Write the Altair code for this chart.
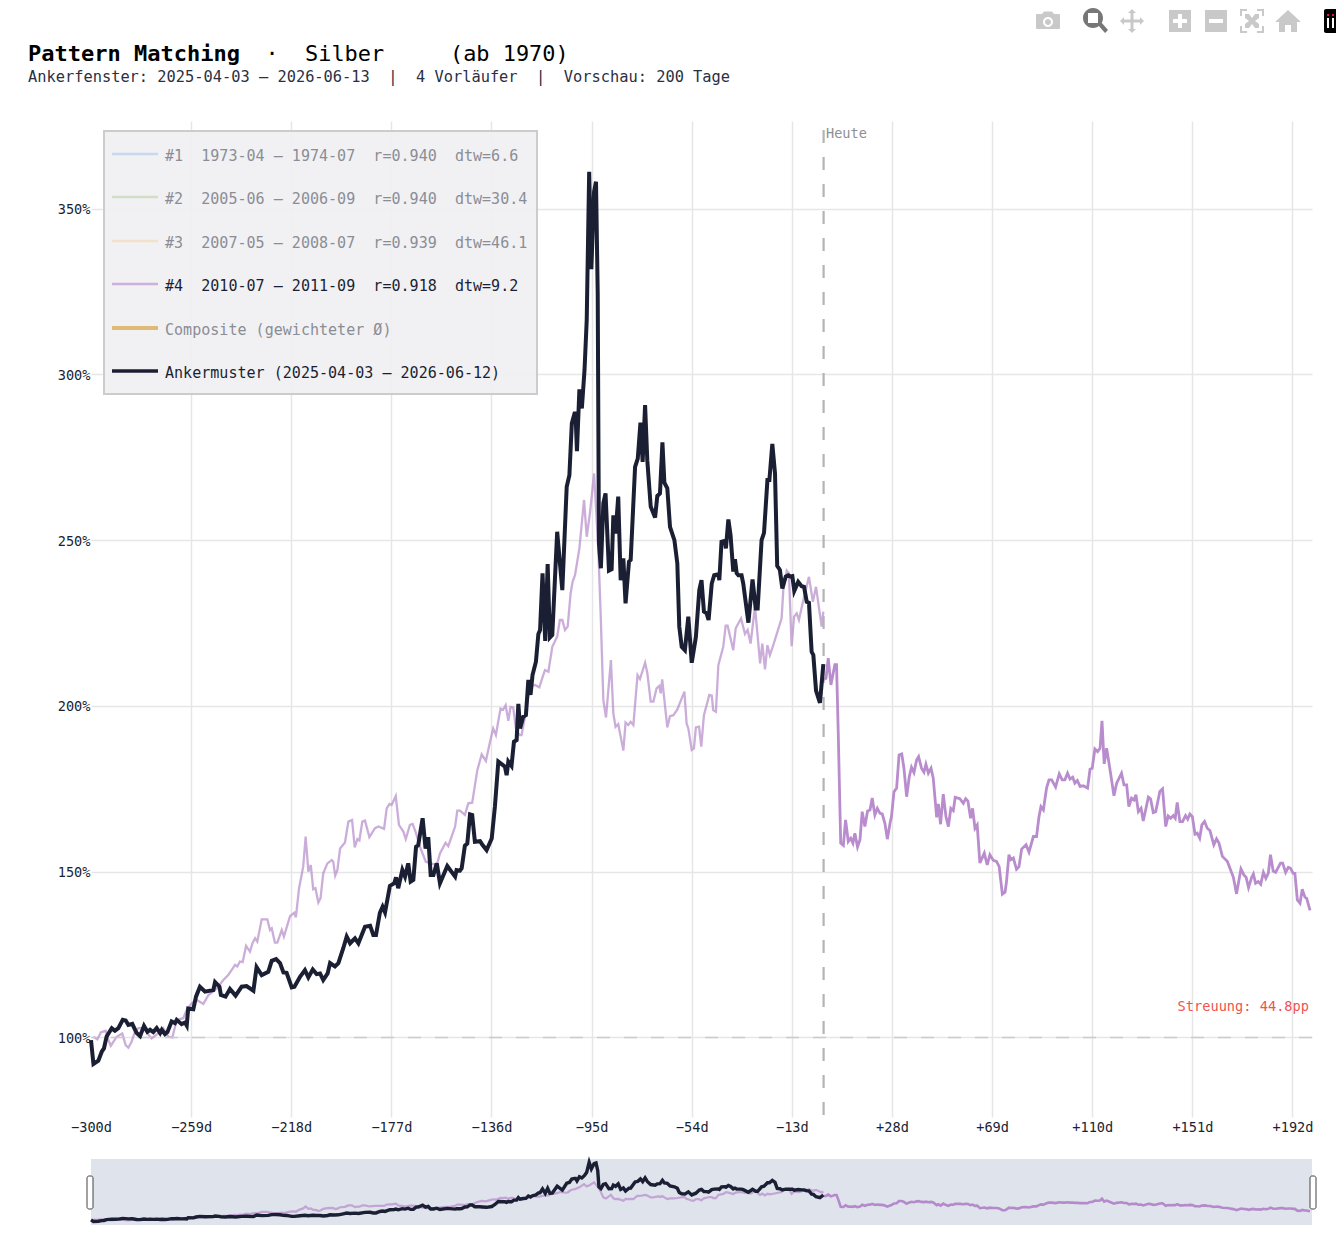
import altair as alt
import pandas as pd

NB = "\u00a0"
FONT = "DejaVu Sans Mono"
DARK = "#1b1f33"
FADED = "#8b8d95"

anker_days = [-300,-299,-297,-295.6,-294.7,-293.6,-291.5,-290.2,-288.8,-287,-285.8,-284.7,-283.1,-281.3,-279.9,-278.3,-276.9,-275.8,-274.5,-273.1,-271.7,-271,-269.7,-268.7,-267,-265.6,-264.9,-262.9,-261.5,-260.8,-260.2,-258.1,-257,-255.4,-253.3,-249.9,-249.2,-247.4,-246.8,-244.9,-243.1,-240.8,-238.3,-236.3,-233.5,-232.2,-230.1,-227.4,-226,-224.2,-222.6,-221.2,-219.9,-217.8,-216.7,-214.4,-212.4,-211,-209.2,-207.6,-206.2,-204.9,-203.1,-202.1,-200.1,-198.7,-196.7,-195.3,-193.9,-191.9,-190.5,-187.8,-185.7,-184.4,-183.3,-181.7,-180.6,-179.6,-177.6,-175.8,-175.1,-174.2,-172.5,-171.4,-170.1,-169.1,-168,-166.9,-166,-164.2,-163,-161.9,-160.9,-159.8,-158.4,-157.1,-154.1,-150.9,-150.3,-148.9,-148.2,-146.9,-145.9,-144.8,-143.9,-142.8,-140.7,-139.8,-138,-135.9,-134.6,-133.2,-130.5,-129.8,-129.1,-127.8,-126.8,-125.7,-125,-124.3,-123,-121.9,-120.9,-120,-119.2,-117.8,-116.8,-116.1,-115.1,-114,-113,-112.1,-111.1,-109.1,-107,-105.2,-104.1,-103.1,-102,-101.6,-101,-100,-99,-97.9,-97,-96,-95.1,-94,-93.2,-92.5,-92,-91.2,-90.2,-89.3,-87.9,-86.8,-86.1,-85.2,-84.1,-83.1,-82,-81.1,-79.7,-79,-77.2,-76.1,-75,-74.1,-73.1,-72.2,-70.8,-69,-68.1,-67,-66,-65.2,-64,-62.9,-61.1,-59.9,-59.1,-58.1,-56.8,-55.4,-54,-52.3,-50.9,-50,-49,-47.9,-47.1,-45.8,-44.8,-43.1,-42.7,-41.8,-40.4,-40,-39,-38.1,-37,-36.3,-35.6,-34.9,-33.6,-32.9,-30.8,-29.1,-27.8,-27,-25.4,-24.4,-23,-22.2,-21,-19.9,-19,-17.9,-16.9,-15.5,-14.5,-13.5,-12.8,-12,-10.4,-9,-8,-6.9,-6,-4.9,-4.2,-3.1,-1.5,-0.1]
anker_vals = [99.2,92,93,95.7,96.7,100.3,102.8,102,102.8,105.3,105.1,103.8,104.1,101.3,100.4,103.5,101.7,102.3,101.6,102.8,101.3,102.3,101,101.6,104.8,104.3,105.3,104,104.5,103.6,108.7,108.5,112.3,115.3,113.8,114.3,116.7,115.3,112.8,112.3,114.6,112.6,115.3,115.5,114.1,121.2,118.8,119.8,123.1,123.6,122.4,119.6,119.5,115.1,115.3,118.3,120.3,118.1,120.5,119.1,119.3,117.3,119.3,122.4,121.4,122.4,126.9,130.4,128.4,129.9,128.4,133.4,133.7,130.9,130.9,137.6,139.4,137.7,145.7,146.5,148.3,145,150.5,148.5,152.5,147,147.5,157.5,158,166.1,157,160.4,149,149,152.5,146.5,151.7,148.5,150.5,150.3,151,157.8,158.5,167.3,167.1,159,159.2,158.2,156.5,160,169.6,183.2,181.7,179.1,183.2,181.9,189.2,189.7,200.6,193.2,196.7,197.2,207.8,203.3,209.3,213.3,221.7,222.9,240,219.6,242.8,220.6,221.4,252.5,234.9,266.1,269.6,285.2,288.2,288.2,276.8,295.5,289.7,301.3,316.4,361.1,331.7,355.1,358.1,324.4,249,241.5,261.1,264.1,240.8,241.2,257.5,252,263.1,237.9,244.5,230.9,243.5,244,272.1,274.6,285.4,273.6,290.7,274.1,260.1,256.8,263.3,264.1,279.5,267.3,265.6,254,250,243,223.9,217.8,216.8,226.9,213,220.8,234.9,237.9,228.4,227.9,225.9,236.9,239.4,239.7,237.9,249.5,249.8,247.5,256.2,251.5,240.5,244.2,240,239.4,239.4,236.9,225.1,238.1,229.4,229.4,250,252.2,268.1,268.1,279,270.1,242.2,241,235.4,239,239.4,239,239.1,234.7,237.4,236.1,235.9,231.4,231.1,216.3,215.3,204.6,200.9,212.6]

prior_days = [-299,-297.4,-296,-294,-292.9,-291.9,-289.5,-287.2,-285.8,-284.7,-283.4,-282,-280.6,-278.6,-275.2,-271.7,-270.4,-268.3,-266.7,-264.9,-262.2,-260.8,-258.8,-256.7,-254,-251.9,-248.5,-245.8,-243.8,-241,-240.1,-239,-237.9,-236.5,-234.9,-233.8,-232.8,-231.9,-230.1,-227.8,-226.7,-226,-224.7,-223.7,-221.9,-221,-218.5,-216.7,-216.1,-214.8,-213.1,-212.1,-211,-210,-209,-208.1,-206.9,-206,-204.9,-203.2,-201.4,-200.8,-200,-199.1,-198,-196,-194.6,-193.1,-192,-190.9,-190.1,-188.9,-187.8,-186,-183.7,-182.3,-180,-178.9,-177.8,-176.9,-175.2,-173.9,-172.1,-171.1,-169.4,-168.3,-166.9,-165.3,-162.9,-160.8,-158.4,-157.1,-154.8,-153.7,-150.9,-150,-148.9,-146.9,-145.5,-143.9,-141.8,-140,-138.3,-136.6,-135.3,-134.2,-132.3,-131.2,-130.2,-129.1,-128.2,-127.1,-126,-124.6,-123.7,-122.3,-120.2,-118.2,-116.4,-114.8,-114.1,-112.7,-111.1,-109.1,-108,-107,-105.9,-104.8,-103.6,-102.8,-101.8,-100,-98.1,-97,-95.7,-94,-92.3,-91.3,-90.2,-89.1,-87.1,-86.1,-85.2,-84.1,-82,-81.1,-80,-79,-77.9,-76.2,-75.2,-73.1,-72.2,-70.8,-69.7,-68.4,-67.3,-66.7,-66.1,-64,-62.9,-61.5,-59.9,-57,-56.1,-55.4,-54,-53.1,-52.3,-51,-50.1,-49,-46.8,-45.8,-45.2,-44.1,-43.1,-41.1,-40.1,-39.3,-37,-36,-33.8,-32.2,-31.1,-29.9,-28.1,-26,-25.1,-24,-23,-22,-20.6,-17.2,-16.5,-15.1,-14.2,-13.1,-12.1,-11,-10.1,-8.3,-6,-4.4,-3.1,-0.8,-0.1]
prior_vals = [100.2,99.4,101.5,102,99.2,97.5,100.2,101.2,97.7,96.9,98.7,101.7,102.8,102.8,99.7,101.7,102.8,100.2,100,105.3,105.8,108.3,110.3,111.3,110.1,112.8,114.8,117.3,118.8,121.9,121.4,122.9,122.7,127.6,125.9,128.6,129.9,128.9,135.6,135.6,132.4,132.9,128.6,128.6,132.4,130.4,136.6,137.6,136.2,145,151.5,160.6,150,152,144.7,145,140.7,142,149.5,152.5,153.5,153,148.8,150.5,157,158.8,165.1,165.6,157.3,159.8,159.4,165.1,165.4,160.4,163.1,163.6,162.9,169.1,170.4,170.1,172.8,164.1,162.1,159.8,164.1,164.4,161.6,157.5,153,152.5,152,155.5,158.7,157.7,163.6,168.4,168.4,167.1,170.6,170.8,180.6,185.4,183.4,189.2,193.2,191.2,199.2,198.9,200.2,195.5,199.7,199.5,193.2,191.2,191.2,196.7,205.8,206.3,205.6,209.3,210.8,210.3,217.8,220.9,225.9,225.9,222.9,223.9,233.9,237.4,239.4,247.5,262.1,251,258,270.1,248,227.9,201.8,196.5,213.8,197.7,193.7,194.5,186.5,195,194.2,195.2,194.2,209.3,208.1,213,210,201.3,201.3,205.3,206,203.8,208,193.5,196.9,197.2,198.9,204.3,194.7,193.2,186.7,187.2,193.5,193.7,187.7,197.2,203.3,203.1,198.7,198.2,212.3,217.8,224.2,224.2,216.8,223.4,226.4,221.7,222.9,218.8,229.9,212.8,218.8,211,218.3,215.3,218.3,226.4,234.9,240.8,240,218,226.9,227.9,225.9,231.9,238.9,231.4,235.9,223.9,228.4]

fore_days = [0,1,1.9,3,4.6,5.3,6,7,8.1,9,10.1,11.1,12,12.8,13.9,14.9,15.8,16.9,18,19,19.9,21,22,23.1,24,25.1,26.1,27.2,27.8,28.8,29.9,30.9,32,32.9,34,35.1,36,37,38.1,38.9,40.1,41.1,41.9,42.9,44,44.9,46.3,47,47.9,49,50.1,51.1,52.1,53.1,53.9,55.8,57.2,58.2,59.1,60.2,61,62,62.9,64,65.8,67,68.1,69.5,70.8,71.9,73.2,74.3,74.9,75.9,76.7,77.7,79,80,81.1,82.9,84.1,85.9,87.2,88.2,89,90,91.3,92.3,93.4,95,96.5,97.7,98.8,99.9,100.9,102,102.9,103.9,105,106.3,108.1,109.1,110,111.1,112.2,113.2,114,114.9,115.9,117.3,118.9,120,122,123,124.1,125,126.1,127.1,127.9,128.9,130,130.9,133,133.9,135,136,137.7,138.8,140.1,141.1,142.1,143.2,144,144.8,145.9,147,148.2,149.1,150,151,152.1,153,154,154.9,156,157.1,158.2,159.8,160.9,161.9,163.3,165.3,166.4,167.8,169.1,170.9,172.1,173,174,175.3,176,176.9,178,179,180.1,181.1,182.1,183,184.1,185.1,187.1,188,189.2,190.3,191.2,192.3,193,194,195.1,196,197.1,197.8,199.2]
fore_vals = [208,208.3,214.4,206.3,212.4,212.4,191.8,158.6,157.9,165.6,159.1,160.1,158.6,161.6,157.4,159.6,168.1,163.6,168.3,168.6,172.2,167.1,169.1,167.6,167.4,164.6,159.8,164.6,166.6,174,175.2,185.2,185.5,181.2,172.6,178.7,181.5,179.9,183.7,184.7,181.2,180,182.4,179.7,181.2,178.2,166.4,170.4,164.3,173.4,166.6,163.6,169.1,168.4,172.4,172,170.6,172,171.3,166.1,169.1,163.1,164.1,152.6,155.6,152,155.1,153.4,153.1,151.5,143.2,143.8,147,155.1,153.6,154.1,150.7,151.5,156.8,158.1,155.9,160.6,160.6,166.6,169.6,168.6,175.2,177.7,177.7,175.5,179.5,177.7,177.7,179.7,177.9,178.5,176.7,177.5,175.7,175.9,175.2,180.9,181.2,187,186.2,187.2,195.5,182.5,187.2,180.7,172.9,176.7,179.7,176.2,176.2,169.6,172.2,171.6,173.2,168.1,169.1,165.3,172.5,171.9,167.8,168.1,174.2,175,163.6,166.8,166.1,166.9,166.1,170.9,165.1,165.1,166.9,165.8,167.4,166.6,161.3,161.6,160.1,164.1,165.1,163.1,162.4,158.1,159.9,158.6,154.6,153.1,151,148.3,143.3,150.8,149,148.3,145.2,148.3,149.3,146.5,147,146.2,149.8,148,149.5,155.1,150.2,149.8,152.6,152.6,149.8,151.3,151,149.5,149.5,141.5,140.5,144.7,142.3,142,138.3]

x_ticks = [-300,-259,-218,-177,-136,-95,-54,-13,28,69,110,151,192]
y_ticks = [100,150,200,250,300,350]
legend_labels = [
    "#1  1973-04 – 1974-07  r=0.940  dtw=6.6",
    "#2  2005-06 – 2006-09  r=0.940  dtw=30.4",
    "#3  2007-05 – 2008-07  r=0.939  dtw=46.1",
    "#4  2010-07 – 2011-09  r=0.918  dtw=9.2",
    "Composite (gewichteter Ø)",
    "Ankermuster (2025-04-03 – 2026-06-12)",
]
legend_swatches = ["#c6d9ef", "#d3dfc3", "#f3e1ca", "#cdb0dc", "#e0bb78", DARK]
legend_widths = [2.5, 2.5, 2.5, 2.5, 4, 3.5]
legend_text_colors = [FADED, FADED, FADED, DARK, FADED, DARK]

PW, PH = 1221, 996
x_scale = alt.Scale(domain=[-300, 200], nice=False, zero=False)
y_scale = alt.Scale(domain=[76, 376.4], nice=False, zero=False)
nav_scale = alt.Scale(domain=[76, 376.4], range=[1104, 1038], nice=False, zero=False)

anker = pd.DataFrame({"day": anker_days, "val": anker_vals})
prior = pd.DataFrame({"day": prior_days, "val": prior_vals})
fore = pd.DataFrame({"day": fore_days, "val": fore_vals})

x_axis = alt.Axis(values=x_ticks, title=None, domain=False, ticks=False, grid=True,
                  gridColor="#e6e6e6", gridWidth=1.5,
                  gridOpacity={"condition": {"test": "datum.value == -300", "value": 0}, "value": 1},
                  labelFont=FONT, labelFontSize=13.6,
                  labelColor=DARK, labelPadding=3, labelFlush=False, labelOverlap=False, labelAngle=0,
                  labelExpr="(datum.value > 0 ? '+' : '\u2212') + abs(datum.value) + 'd'")
y_axis = alt.Axis(values=y_ticks, title=None, domain=False, ticks=False, grid=True,
                  gridColor="#e6e6e6", gridWidth=1.5, labelFont=FONT, labelFontSize=13.6,
                  labelColor=DARK, labelPadding=1, labelOffset=1, labelOverlap=False,
                  labelExpr="datum.value + '%'")


def line(df, color, width, opacity=1.0, scale=y_scale, yax=None):
    return alt.Chart(df).mark_line(color=color, strokeWidth=width, opacity=opacity, clip=False).encode(
        x=alt.X("day:Q", scale=x_scale, axis=x_axis),
        y=alt.Y("val:Q", scale=scale, axis=yax),
    )


def label(txt, x, y, size=13.6, color=DARK, bold=False, align="left"):
    return alt.Chart().mark_text(text=txt, font=FONT, fontSize=size, color=color, align=align,
                                 baseline="middle", fontWeight="bold" if bold else "normal").encode(
        x=alt.value(x), y=alt.value(y))


def icon(path, px, py, color):
    return alt.Chart().mark_point(shape=path, filled=True, size=4, color=color, opacity=1, strokeWidth=0).encode(
        x=alt.value(px - 91), y=alt.value(py - 121))


layers = []
# main series, the y axis lives on the first one
layers.append(line(prior, "#b58acb", 2.3, opacity=0.7, yax=y_axis))
layers.append(alt.Chart().mark_rule(color="#cccccc", strokeWidth=1.5, strokeDash=[13, 14]).encode(
    y=alt.Y(datum=100, scale=y_scale, axis=None)))
layers.append(alt.Chart().mark_rule(color="#b4b4b4", strokeWidth=2.2, strokeDash=[13, 14]).encode(
    x=alt.X(datum=0, scale=x_scale, axis=x_axis), y=alt.value(PH - 2), y2=alt.value(0)))
layers.append(line(fore, "#b88ccd", 2.8))
layers.append(line(anker, DARK, 4))

# range slider
layers.append(alt.Chart().mark_rect(color="#dfe3eb").encode(
    x=alt.value(0), x2=alt.value(PW), y=alt.value(1038), y2=alt.value(1104)))
layers.append(line(prior, "#b58acb", 2.2, opacity=0.7, scale=nav_scale))
layers.append(line(fore, "#b58acb", 2.6, scale=nav_scale))
layers.append(line(anker, DARK, 3.4, scale=nav_scale))
for hx in (-1, PW + 1):
    layers.append(alt.Chart().mark_rect(fill="#ffffff", stroke="#444444", strokeWidth=1, cornerRadius=2).encode(
        x=alt.value(hx - 3), x2=alt.value(hx + 3), y=alt.value(1055), y2=alt.value(1088)))

# annotations
layers.append(label("Heute", 735, 13, color="#8f8f8f"))
layers.append(label("Streuung: 44.8pp", 1218, 886, color="#ef5350", align="right", size=13.65))

# legend
layers.append(alt.Chart().mark_rect(fill="#eff0f3", fillOpacity=0.9, stroke="#cccccc", strokeWidth=2).encode(
    x=alt.value(13), x2=alt.value(446), y=alt.value(10), y2=alt.value(273)))
row_y = [34, 77, 121, 164, 208, 251]
for lab, sw, lw, tc, ry in zip(legend_labels, legend_swatches, legend_widths, legend_text_colors, row_y):
    layers.append(alt.Chart().mark_rule(color=sw, strokeWidth=lw).encode(
        x=alt.value(21), x2=alt.value(67), y=alt.value(ry - 1)))
    layers.append(label(lab.replace(" ", NB), 74, ry + 0.5, size=15.05, color=tc))

# header
layers.append(label("Pattern" + NB + "Matching", -63, -67, size=22, bold=True, color="#000000"))
layers.append(label("·" + NB * 2 + "Silber" + NB * 5 + "(ab" + NB + "1970)", 28 + 18 * 13.25 - 92, -67, size=21.9, color="#000000"))
sub = "Ankerfenster: 2025-04-03 – 2026-06-13  |  4 Vorläufer  |  Vorschau: 200 Tage"
layers.append(label(sub.replace(" ", NB), -63, -44, size=15.35, color="#2b2f42"))

# toolbar
G = "#c9c9c9"
icons = [
    ("M-11,-7H-6L-4,-9.5H4L6,-7H11A1,1,0,0,1,12,-6V7A1,1,0,0,1,11,8H-11A1,1,0,0,1,-12,7V-6A1,1,0,0,1,-11,-7Z"
     "M0,-4A5,5,0,0,0,0,6A5,5,0,0,0,0,-4ZM0,-2A3,3,0,0,1,0,4A3,3,0,0,1,0,-2Z", 1048, 21, G),
    ("M-2,-13A10,10,0,0,1,-2,7A10,10,0,0,1,-2,-13ZM-7,-8V2H3V-8ZM3,4L6,1L13,9L10,12Z", 1095, 21, "#777777"),
    ("M0,-12L4,-8H1.5V-1.5H8V-4L12,0L8,4V1.5H1.5V8H4L0,12L-4,8H-1.5V1.5H-8V4L-12,0L-8,-4V-1.5H-1.5V-8H-4Z", 1132, 21, G),
    ("M-11,-11H11V11H-11ZM-2,-7V-2H-7V2H-2V7H2V2H7V-2H2V-7Z", 1180, 21, G),
    ("M-11,-11H11V11H-11ZM-7,-2V2H7V-2Z", 1216, 21, G),
    ("M-12,-12H-5V-10H-10V-5H-12ZM12,-12V-5H10V-10H5V-12ZM12,12H5V10H10V5H12ZM-12,12V5H-10V10H-5V12Z"
     "M-7,-7L-3,-7L0,-3L3,-7L7,-7L7,-3L3,0L7,3L7,7L3,7L0,3L-3,7L-7,7L-7,3L-3,0L-7,-3Z", 1252, 21, G),
    ("M0,-11L13,1H9V11H3V4H-3V11H-9V1H-13Z", 1288, 21, G),
    ("M-10,-12H10V12H-10A2,2,0,0,1,-12,10V-10A2,2,0,0,1,-10,-12Z", 1336, 21, "#000000"),
]
for p, ix, iy, c in icons:
    layers.append(icon(p, ix, iy, c))
for bx, dot in zip([1328, 1333], ["#e0115f", "#e0115f"]):
    layers.append(icon("M-1,-5H1V5H-1Z", bx, 23, "#ffffff"))
    layers.append(icon("M-1,-1H1V1H-1Z", bx, 15, dot))

chart = alt.layer(*layers).resolve_scale(y="independent").properties(
    width=PW, height=PH,
    padding={"left": 83, "top": 113, "right": 24, "bottom": 110},
    autosize=alt.AutoSizeParams(type="none"),
    background="#ffffff",
).configure_view(strokeWidth=0)

chart.save("out.html", embed_options={"renderer": "svg", "actions": False})
